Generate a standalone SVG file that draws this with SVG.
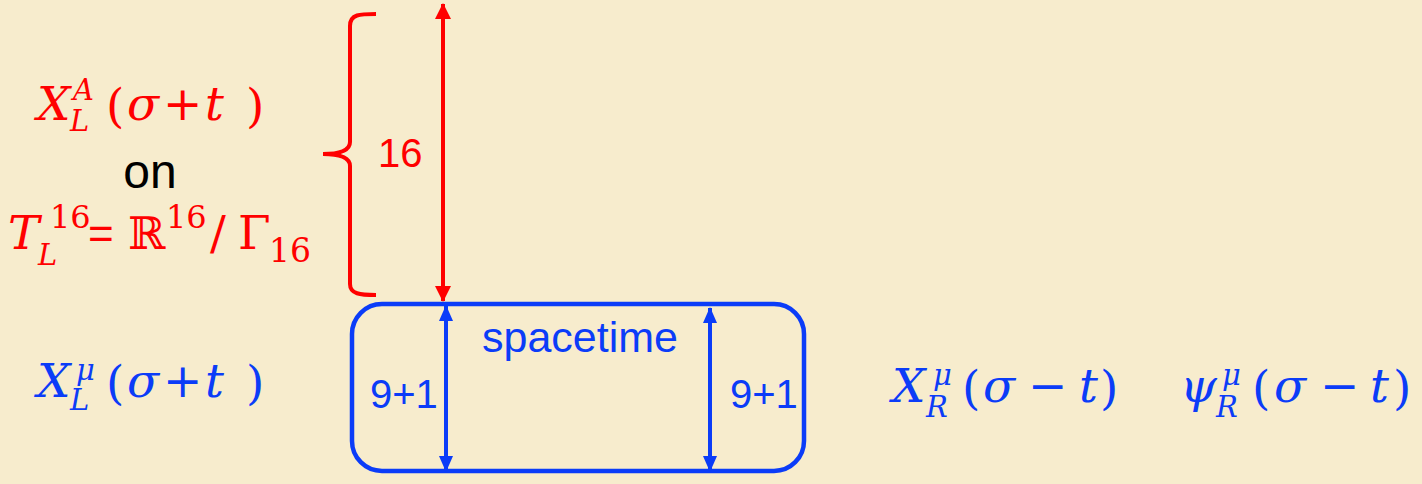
<svg xmlns="http://www.w3.org/2000/svg" width="1422" height="484" viewBox="0 0 1422 484">
<defs>
<style>
.m{font-family:"DejaVu Serif","Liberation Serif",serif;font-size:47px}
.i{font-style:italic}
.s{font-size:29px}
.sans{font-family:"Liberation Sans",Arial,sans-serif}
.red{fill:#FF0000}
.blue{fill:#0B3CF8}
.blk{fill:#000000}
</style>
<marker id="ar" viewBox="0 0 16 16" refX="15" refY="8" markerWidth="16" markerHeight="16" markerUnits="userSpaceOnUse" orient="auto-start-reverse"><path d="M0,0 L16,8 L0,16 z" fill="#FF0000"/></marker>
<marker id="ab" viewBox="0 0 16 14" refX="15" refY="7" markerWidth="16" markerHeight="14" markerUnits="userSpaceOnUse" orient="auto-start-reverse"><path d="M0,0 L16,7 L0,14 z" fill="#0B3CF8"/></marker>
</defs>
<rect x="0" y="0" width="1422" height="484" fill="#F7ECCD"/>

<g id="xla" class="m red">
<text x="37" y="120" class="i">X</text>
<text x="73" y="100" class="i s">A</text>
<text x="70" y="131" class="i s">L</text>
<text x="106" y="122">(</text>
<text x="127" y="120" class="i">σ</text>
<text x="163" y="120">+</text>
<text x="205" y="120" class="i">t</text>
<text x="246" y="122">)</text>
</g>

<g id="on"><text x="150" y="188" text-anchor="middle" class="sans blk" font-size="48">on</text></g>

<g id="torus" class="m red">
<text x="8" y="249" class="i">T</text>
<text x="50" y="228" font-size="32">16</text>
<text x="38" y="265" class="i s">L</text>
<text x="88" y="249" class="sans" font-size="44">=</text>
<text x="128" y="249" font-size="45">ℝ</text>
<text x="166" y="228" font-size="32">16</text>
<text x="210" y="249">/</text>
<text x="238" y="249">Γ</text>
<text x="269" y="262" font-size="33">16</text>
</g>

<g id="brace16">
<path d="M376,14 C360,14 350,14 350,26 L350,142 C350,150 342,154 323,154 C342,154 350,158 350,166 L350,284 C350,294 360,295 376,295" fill="none" stroke="#FF0000" stroke-width="4"/>
<text x="378" y="167" class="sans red" font-size="40">16</text>
</g>

<g id="spacetime">
<rect x="352" y="304" width="452" height="167" rx="30" ry="30" fill="none" stroke="#0B3CF8" stroke-width="4.5"/>
<text x="482" y="352" class="sans blue" font-size="43" textLength="196" lengthAdjust="spacingAndGlyphs">spacetime</text>
<text x="370" y="408" class="sans blue" font-size="40">9+1</text>
<text x="730" y="408" class="sans blue" font-size="40">9+1</text>
</g>

<g id="xlmu" class="m blue">
<text x="37" y="397" class="i">X</text>
<text x="76" y="380" class="i s">μ</text>
<text x="70" y="410" class="i s">L</text>
<text x="106" y="399">(</text>
<text x="127" y="397" class="i">σ</text>
<text x="163" y="397">+</text>
<text x="205" y="397" class="i">t</text>
<text x="246" y="399">)</text>
</g>

<g id="xrmu" class="m blue">
<text x="892" y="402" class="i">X</text>
<text x="933" y="385" class="i s">μ</text>
<text x="926" y="417" class="i s">R</text>
<text x="962" y="404">(</text>
<text x="983" y="402" class="i">σ</text>
<text x="1028" y="402">−</text>
<text x="1079" y="402" class="i">t</text>
<text x="1100" y="404">)</text>
</g>

<g id="psirmu" class="m blue">
<text x="1180" y="402" class="i">ψ</text>
<text x="1222" y="385" class="i s">μ</text>
<text x="1216" y="417" class="i s">R</text>
<text x="1252" y="404">(</text>
<text x="1274" y="402" class="i">σ</text>
<text x="1320" y="402">−</text>
<text x="1370" y="402" class="i">t</text>
<text x="1393" y="404">)</text>
</g>

<g id="connectors">
<line x1="443" y1="4" x2="443" y2="301" stroke="#FF0000" stroke-width="4" marker-start="url(#ar)" marker-end="url(#ar)"/>
<line x1="446" y1="306" x2="446" y2="471" stroke="#0B3CF8" stroke-width="4" marker-start="url(#ab)" marker-end="url(#ab)"/>
<line x1="710" y1="308" x2="710" y2="471" stroke="#0B3CF8" stroke-width="4" marker-start="url(#ab)" marker-end="url(#ab)"/>
</g>
</svg>
